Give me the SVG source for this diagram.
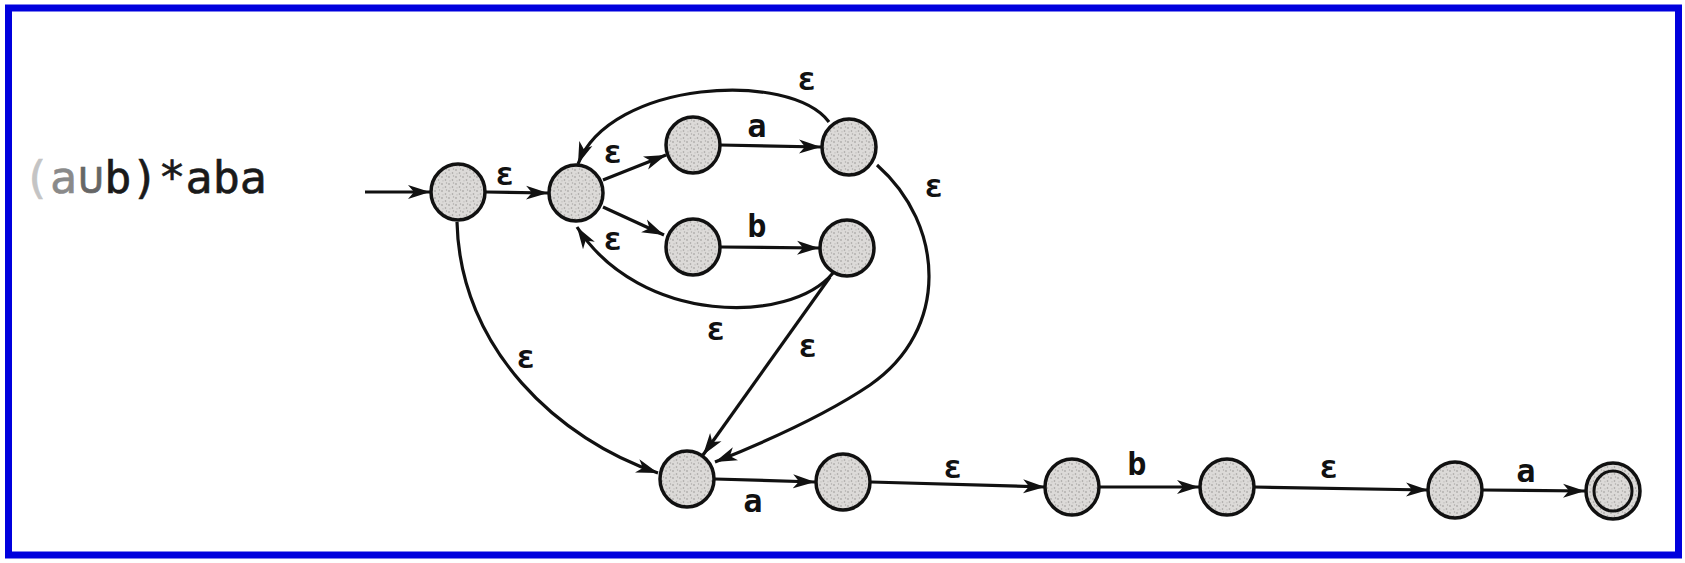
<svg xmlns="http://www.w3.org/2000/svg" width="1685" height="563" viewBox="0 0 1685 563">
<defs>
<pattern id="stip" width="7" height="7" patternUnits="userSpaceOnUse">
<rect width="7" height="7" fill="#dcdad8"/>
<circle cx="1" cy="2" r="0.8" fill="#959391"/>
<circle cx="4.5" cy="5" r="0.8" fill="#9f9d9b"/>
<circle cx="5.5" cy="1" r="0.7" fill="#adaba9"/>
<circle cx="2" cy="5.8" r="0.6" fill="#b3b1af"/>
</pattern>
<marker id="arr" markerUnits="userSpaceOnUse" markerWidth="24" markerHeight="16" refX="22" refY="8" orient="auto">
<path d="M0,1 L22,8 L0,15 L6,8 z" fill="#111"/>
</marker>
<style>
.st{fill:url(#stip);stroke:#111;stroke-width:3.5}
.ed{fill:none;stroke:#111;stroke-width:3.2}
.ar{marker-end:url(#arr)}
.lb{font-family:"DejaVu Sans Mono",monospace;font-size:32px;font-weight:bold;fill:#111;text-anchor:middle}
.rx{font-family:"DejaVu Sans Mono",monospace;font-size:45px;fill:#1a1a1a;stroke:#1a1a1a;stroke-width:0.6}
</style>
</defs>
<rect width="1685" height="563" fill="#ffffff"/>
<rect x="8.5" y="8" width="1670" height="547" fill="none" stroke="#0000dd" stroke-width="7"/>
<text class="rx" x="23" y="193"><tspan fill="#c4c4c4" stroke="#c4c4c4">(</tspan><tspan fill="#8a8a8a" stroke="#8a8a8a">a</tspan><tspan fill="#666" stroke="#666">∪</tspan>b)*aba</text>
<g id="connectors">
<path class="ed ar" d="M365,192 L430,192"/>
<path class="ed ar" d="M486,192 L548,193"/>
<path class="ed ar" d="M603,180 L666,155"/>
<path class="ed ar" d="M603,207 L664,235"/>
<path class="ed ar" d="M720,145 L821,147"/>
<path class="ed ar" d="M720,247 L819,248"/>
<path class="ed ar" d="M829,122 C790,70 610,80 578,164"/>
<path class="ed ar" d="M833,273 C790,325 640,325 577,227"/>
<path class="ed ar" d="M877,165 C945,225 950,330 870,385 C830,412 770,440 715,462"/>
<path class="ed ar" d="M830,277 L703,455"/>
<path class="ed ar" d="M457,222 C460,350 560,440 658,473"/>
<path class="ed ar" d="M715,479 L815,482"/>
<path class="ed ar" d="M871,482 L1045,487"/>
<path class="ed ar" d="M1099,487 L1199,487"/>
<path class="ed ar" d="M1254,487 L1428,490"/>
<path class="ed ar" d="M1482,490 L1585,491"/>
<text class="lb" x="505" y="185">ε</text>
<text class="lb" x="613" y="163">ε</text>
<text class="lb" x="613" y="250">ε</text>
<text class="lb" x="757" y="137">a</text>
<text class="lb" x="757" y="237">b</text>
<text class="lb" x="807" y="90">ε</text>
<text class="lb" x="716" y="340">ε</text>
<text class="lb" x="934" y="197">ε</text>
<text class="lb" x="808" y="357">ε</text>
<text class="lb" x="526" y="368">ε</text>
<text class="lb" x="753" y="512">a</text>
<text class="lb" x="953" y="478">ε</text>
<text class="lb" x="1137" y="475">b</text>
<text class="lb" x="1329" y="478">ε</text>
<text class="lb" x="1526" y="482">a</text>
</g>
<g id="q0"><ellipse class="st" cx="458" cy="192" rx="27" ry="28"/></g>
<g id="q1"><ellipse class="st" cx="576" cy="193" rx="27" ry="28"/></g>
<g id="qa1"><ellipse class="st" cx="693" cy="145" rx="27" ry="28"/></g>
<g id="qa2"><ellipse class="st" cx="849" cy="147" rx="27" ry="28"/></g>
<g id="qb1"><ellipse class="st" cx="693" cy="247" rx="27" ry="28"/></g>
<g id="qb2"><ellipse class="st" cx="847" cy="248" rx="27" ry="28"/></g>
<g id="q6"><ellipse class="st" cx="687" cy="479" rx="27" ry="28"/></g>
<g id="q7"><ellipse class="st" cx="843" cy="482" rx="27" ry="28"/></g>
<g id="q8"><ellipse class="st" cx="1072" cy="487" rx="27" ry="28"/></g>
<g id="q9"><ellipse class="st" cx="1227" cy="487" rx="27" ry="28"/></g>
<g id="q10"><ellipse class="st" cx="1455" cy="490" rx="27" ry="28"/></g>
<g id="qf"><ellipse class="st" cx="1613" cy="491" rx="27" ry="28"/><ellipse fill="none" stroke="#111" stroke-width="3" cx="1613" cy="491" rx="19" ry="20"/></g>
</svg>
